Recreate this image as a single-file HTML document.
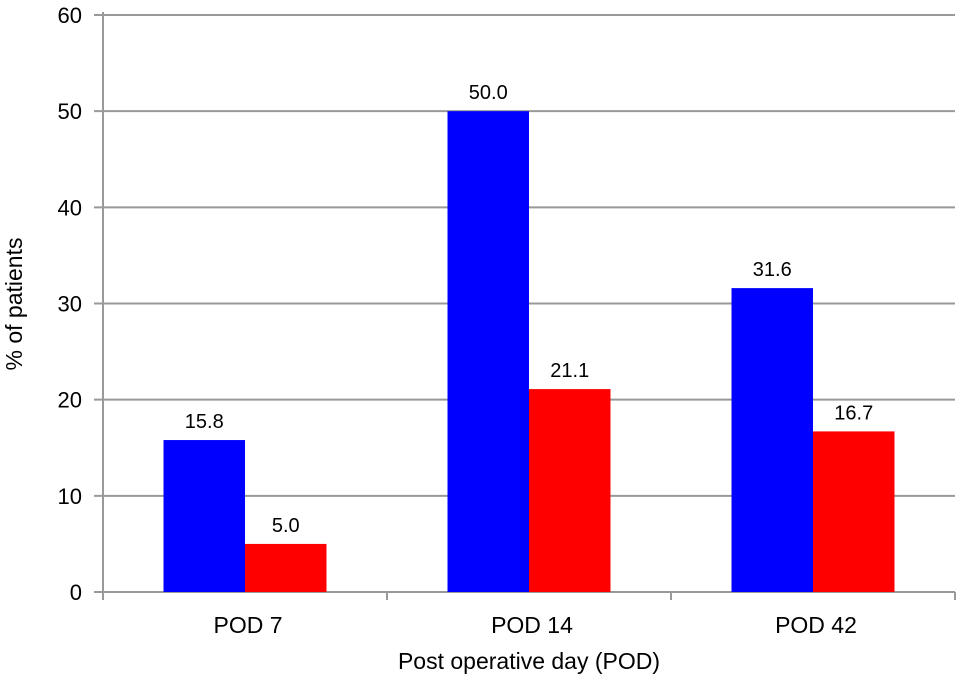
<!DOCTYPE html>
<html><head><meta charset="utf-8"><style>
body{margin:0;background:#fff;}
svg text{font-family:"Liberation Sans",Arial,sans-serif;fill:#000;}
</style></head><body>
<svg id="chart" width="960" height="680" xmlns="http://www.w3.org/2000/svg">
<g id="grid"></g><g id="bars"></g><g id="axes"></g><g id="labels"></g>
<text x="0" y="0" transform="translate(22,304) rotate(-90)" text-anchor="middle" font-size="23">% of patients</text>
<text x="529" y="669" text-anchor="middle" font-size="23">Post operative day (POD)</text>
</svg>
<script>
const categories = ["POD 7","POD 14","POD 42"];
const seriesA = [15.8, 50.0, 31.6];
const seriesB = [5.0, 21.1, 16.7];
const yTicks = [0,10,20,30,40,50,60];
const NS="http://www.w3.org/2000/svg";
const x0=103,x1=955,y0=592,yTop=15,yMax=60;
function yScale(v){return y0-(v/yMax)*(y0-yTop);}
const catW=(x1-x0)/categories.length;
function xCenter(i){return x0+catW*(i+0.5);}
const barW=81.5;
function mk(tag,attrs,parent){const e=document.createElementNS(NS,tag);for(const k in attrs)e.setAttribute(k,attrs[k]);document.getElementById(parent).appendChild(e);return e;}
yTicks.forEach(t=>{
  const y=yScale(t);
  const g=mk('line',{x1:94,x2:x1,y1:y,y2:y,stroke:'#999','stroke-width':2},'grid');
  
  
  const tx=mk('text',{x:82,y:y+8,'text-anchor':'end','font-size':22},'labels');
  tx.textContent=t;
  
  
});
const ax=mk('line',{x1:x0,x2:x0,y1:yTop-3,y2:y0+8,stroke:'#999','stroke-width':2},'axes');


for(let i=0;i<=categories.length;i++){
  const xt=x0+catW*i;
  const tk=mk('line',{x1:xt,x2:xt,y1:y0,y2:y0+8,stroke:'#999','stroke-width':2},'axes');
  
  
}
categories.forEach((c,i)=>{
  const cx=xCenter(i);
  [[seriesA,'#0000ff',-1,'blue'],[seriesB,'#ff0000',0,'red']].forEach(([s,col,off,nm])=>{
    const bx=cx+off*barW, by=yScale(s[i]);
    const r=mk('rect',{x:bx,y:by,width:barW,height:y0-by,fill:col},'bars');
    
    
    const l=mk('text',{x:bx+barW/2,y:by-12,'text-anchor':'middle','font-size':20},'labels');
    l.textContent=s[i].toFixed(1);
    
    
  });
  const xl=mk('text',{x:cx+3,y:633,'text-anchor':'middle','font-size':23},'labels');
  xl.textContent=c;
  
  
});
</script>
</body></html>
